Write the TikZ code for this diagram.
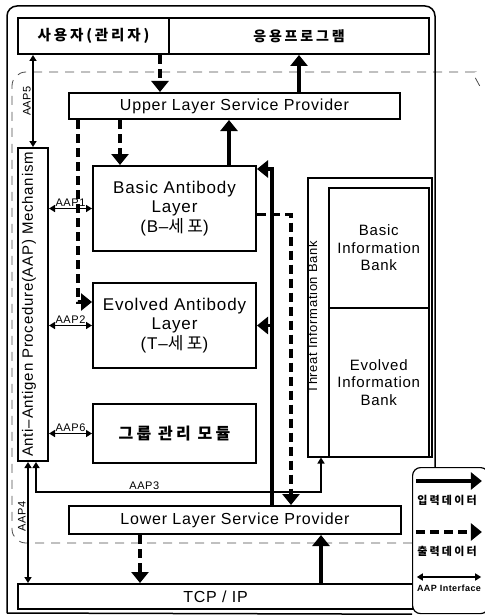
\documentclass[tikz,border=0pt]{standalone}
\usepackage{fontspec}
\setmainfont{Liberation Sans}[LetterSpace=5]
\newfontfamily\kr{Noto Sans CJK KR}[LetterSpace=20]
\usetikzlibrary{arrows.meta, positioning, calc}

\begin{document}
\begin{tikzpicture}[
    x=1pt, y=-1pt,
    box/.style={rectangle, draw=black, line width=2pt, anchor=north west,
                inner sep=0pt, align=center, fill=white},
    korbox/.style={box, font=\kr\bfseries\fontsize{14.5}{16}\selectfont},
    svc/.style={box, font=\fontsize{16}{19}\selectfont},
    ab/.style={box, minimum width=163pt, minimum height=85pt,
                font=\fontsize{17}{19.5}\selectfont},
    bank/.style={rectangle, draw=black, line width=1.5pt, anchor=north west,
                inner sep=0pt, align=center, fill=white,
                font=\fontsize{15}{17.5}\selectfont},
    indata/.style={line width=3.5pt, -{Triangle[length=11pt, width=17pt]}},
    outdata/.style={line width=3.5pt, dash pattern=on 9pt off 5pt,
                -{Triangle[length=11pt, width=17pt]}},
    aapif/.style={line width=1.6pt,
                {Triangle[length=6pt, width=7pt]}-{Triangle[length=6pt, width=7pt]}},
    aaplbl/.style={font=\fontsize{11}{12}\selectfont, inner sep=1.5pt},
    keytext/.style={font=\kr\bfseries\fontsize{11}{12}\selectfont, inner sep=0pt},
    zone/.style={draw=black!70, line width=0.8pt, dash pattern=on 9pt off 7pt,
                rounded corners=14pt}
]
\useasboundingbox (0,0) rectangle (484,615);

\draw[zone] (412,543) -- (12,543) -- (12,72) -- (460,72)
    .. controls (472,72) .. (482,90);

\draw[line width=1.5pt, rounded corners=10pt] (7,613) -- (7,6) -- (435,6) -- (435,467);

\node[korbox, minimum width=151pt, minimum height=36pt] (user) at (17,17) {사용자(관리자)};
\node[korbox, right=-2pt of user, minimum width=260pt, minimum height=36pt,
      font=\kr\bfseries\fontsize{14}{16}\selectfont] (app) {응용프로그램};

\node[svc, minimum width=331pt, minimum height=26pt] (upper) at (68,92) {Upper Layer Service Provider};

\node[box, minimum width=30pt, minimum height=313pt] (aap) at (17,147) {};
\node[rotate=90, yshift=4pt, font=\fontsize{15}{17}\selectfont] (aaptext) at (aap.center)
    {Anti–Antigen Procedure(AAP) Mechanism};

\node[ab] (basic) at (92,165) {Basic Antibody\\Layer\\(B–{\kr 세포})};
\node[ab] (evolved) at (92,282) {Evolved Antibody\\Layer\\(T–{\kr 세포})};
\node[box, minimum width=163pt, minimum height=59pt,
      font=\kr\bfseries\fontsize{16}{18}\selectfont] (group) at (92,403) {그룹 관리 모듈};

\node[bank, minimum width=124pt, minimum height=279pt] (threat) at (307,177) {};
\node[bank, minimum width=100pt, minimum height=120pt] (bib) at (328,187) {Basic\\Information\\Bank};
\node[bank, below=-1.5pt of bib, minimum width=100pt, minimum height=149pt] (eib) {Evolved\\Information\\Bank};
\node[rotate=90, yshift=5pt, font=\fontsize{13}{15}\selectfont] (threattext)
    at ($(threat.west)!0.5!(bib.west |- threat.west)$) {Threat Information Bank};

\node[svc, minimum width=332pt, minimum height=28pt] (lower) at (68,505) {Lower Layer Service Provider};
\node[svc, minimum width=395pt, minimum height=25pt] (tcp) at (17,583) {TCP / IP};

\node[draw, line width=1.2pt, rounded corners=8pt, anchor=north west,
      minimum width=76pt, minimum height=146pt, fill=white] (legend) at (412,467) {};
\draw[line width=1.5pt] (7,613) -- (legend.south west);

\coordinate (inbus) at (272,0);
\coordinate (outbus) at (291,0);
\coordinate (upx) at (321,0);

\draw[outdata] ([xshift=-10pt]user.south east) -- ([xshift=-10pt]user.south east |- upper.north);
\draw[indata] (app.south |- upper.north) -- (app.south);
\draw[aapif] (aap.north |- user.south) -- node[aaplbl, rotate=90, anchor=south]{AAP5} (aap.north);

\draw[outdata] ([xshift=28pt]basic.north west |- upper.south) -- ([xshift=28pt]basic.north west);
\draw[outdata] ([xshift=10pt]upper.south west) |- ([yshift=-20pt]evolved.north west);
\draw[indata] ([xshift=-28pt]basic.north east) -- ([xshift=-28pt]basic.north east |- upper.south);

\draw[indata] (inbus |- lower.north) |- ([yshift=-4pt]basic.north east);
\draw[indata] (inbus |- evolved.east) -- (evolved.east);
\draw[outdata] ([yshift=-6pt]basic.east) -| (outbus |- lower.north);

\draw[aapif] (aap.east |- basic.west) -- node[aaplbl, above]{AAP1} (basic.west);
\draw[aapif] (aap.east |- evolved.west) -- node[aaplbl, above]{AAP2} (evolved.west);
\draw[aapif] (aap.east |- group.west) -- node[aaplbl, above]{AAP6} (group.west);
\draw[aapif] ([xshift=3pt]aap.south) -- ++(0,30) -| node[aaplbl, pos=0.19, above]{AAP3} (upx |- threat.south);
\draw[aapif] ([xshift=-5pt]aap.south) -- node[aaplbl, pos=0.45, rotate=90, anchor=south]{AAP4}
    ([xshift=-5pt]aap.south |- tcp.north);

\draw[outdata] ([xshift=72pt]lower.south west) -- ([xshift=72pt]lower.south west |- tcp.north);
\draw[indata] (upx |- tcp.north) -- (upx |- lower.south);

\node[keytext] (inkey) at (447,500) {입력데이터};
\node[keytext] (outkey) at (447,551) {출력데이터};
\node[font=\bfseries\fontsize{9}{10}\selectfont, inner sep=0pt] (aapkey) at (449,588) {AAP Interface};
\draw[indata] ($(inkey.west)+(-1,-19)$) -- ($(inkey.east)+(5,-19)$);
\draw[outdata] ($(outkey.west)+(-1,-19)$) -- ($(outkey.east)+(5,-19)$);
\draw[aapif] ($(aapkey.west)+(0,-11)$) -- ($(aapkey.east)+(0,-11)$);

\end{tikzpicture}
\end{document}
